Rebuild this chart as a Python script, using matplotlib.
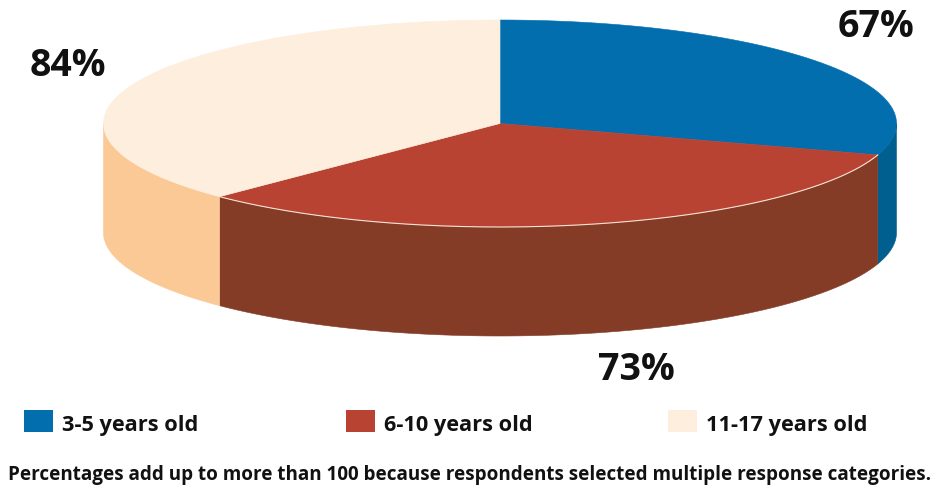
import numpy as np
import matplotlib
matplotlib.use('Agg')
import matplotlib.pyplot as plt
from matplotlib.patches import Polygon, Rectangle

labels = ['3-5 years old', '6-10 years old', '11-17 years old']
values = [67, 73, 84]
value_labels = ['67%', '73%', '84%']
top_colors = ['#036EAE', '#B84332', '#FEEEDD']
side_colors = ['#005F8E', '#843C27', '#FBC995']
note = 'Percentages add up to more than 100 because respondents selected multiple response categories.'

plt.rcParams['font.family'] = ['Open Sans', 'DejaVu Sans']

W, H = 933, 486
fig = plt.figure(figsize=(W / 100, H / 100), dpi=100)
ax = fig.add_axes([0, 0, 1, 1])
ax.set_xlim(0, W)
ax.set_ylim(H, 0)
ax.axis('off')

# ellipse of the pie top, and how deep the side wall goes
cx, cy = 500, 123.5
rx, ry = 396.5, 103.5
depth = 109


def rim(a0, a1):
    t = np.radians(np.linspace(a0, a1, 200))
    return cx + rx * np.cos(t), cy - ry * np.sin(t)


# slice angles run clockwise from twelve o'clock
shares = np.array(values) / sum(values) * 360
ends = 90 - np.cumsum(shares)
starts = np.r_[90, ends[:-1]]

# side wall first, only the front half of the rim is visible
for a0, a1, c in zip(starts, ends, side_colors):
    a_from = min(a0, 0)
    a_to = max(a1, -180)
    if a_from <= a_to:
        continue
    x, y = rim(a_from, a_to)
    pts = np.r_[np.c_[x, y], np.c_[x[::-1], y[::-1] + depth]]
    ax.add_patch(Polygon(pts, closed=True, fc=c, ec=c, lw=0.4))

# top faces
for a0, a1, c in zip(starts, ends, top_colors):
    x, y = rim(a0, a1)
    pts = np.r_[[[cx, cy]], np.c_[x, y]]
    ax.add_patch(Polygon(pts, closed=True, fc=c, ec=c, lw=0.4))

# thin light edge where the red slice meets its wall
x, y = rim(starts[1], ends[1])
ax.plot(x, y, color='#F6E4D6', lw=0.8)

# percentages
label_pos = [(876, 27), (636, 370), (68, 66)]
for (lx, ly), s in zip(label_pos, value_labels):
    ax.text(lx, ly, s, ha='center', va='center', fontsize=27, fontweight='bold', color='#111111')

# legend row
legend_x = [24, 346, 668]
for lx, s, c in zip(legend_x, labels, top_colors):
    ax.add_patch(Rectangle((lx, 410), 29, 22, fc=c, ec='none'))
    ax.text(lx + 38, 425, s, ha='left', va='center', fontsize=15.7, fontweight='bold', color='#111111')

ax.text(470, 475, note, ha='center', va='center', fontsize=13.55, fontweight='bold', color='#111111')

fig.savefig('out.png', dpi=100)
